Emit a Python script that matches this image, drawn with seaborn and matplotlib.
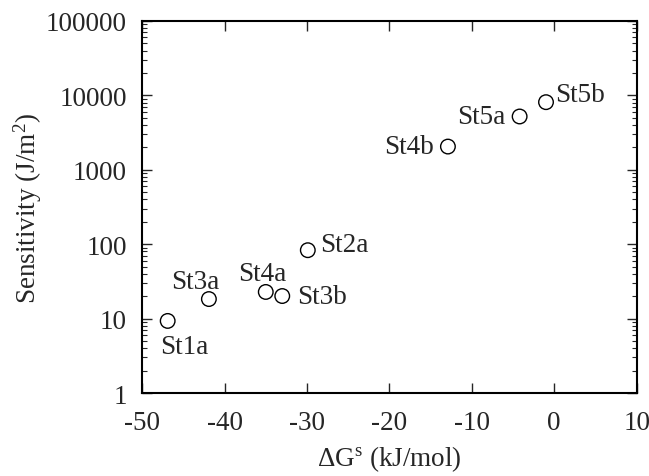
import matplotlib
matplotlib.use("Agg")
import matplotlib.pyplot as plt
import seaborn as sns
import pandas as pd
from matplotlib.ticker import FixedLocator, LogLocator, NullFormatter, FixedFormatter

names = ["St1a", "St3a", "St4a", "St3b", "St2a", "St4b", "St5a", "St5b"]
delta_g = [-46.9, -41.9, -35.0, -33.0, -29.9, -12.9, -4.2, -1.0]
sensitivity = [9.3, 18.3, 22.8, 20.1, 83.0, 2050, 5200, 8100]

x_ticks = [-50, -40, -30, -20, -10, 0, 10]
y_ticks = [1, 10, 100, 1000, 10000, 100000]
y_tick_labels = ["1", "10", "100", "1000", "10000", "100000"]

# label offsets in pixels (dx, dy, ha)
label_offsets = {
    "St1a": (-8, -26, "left"),
    "St3a": (-38, 18, "left"),
    "St4a": (-28, 18, "left"),
    "St3b": (15, 0, "left"),
    "St2a": (12, 6, "left"),
    "St4b": (-14, 0, "right"),
    "St5a": (-14, 0, "right"),
    "St5b": (9, 8, "left"),
}

FS = 19.5

sns.set_style("ticks")
plt.rcParams["font.family"] = ["Liberation Serif", "DejaVu Serif"]
plt.rcParams["mathtext.fontset"] = "custom"
plt.rcParams["mathtext.rm"] = "Liberation Serif"
plt.rcParams["mathtext.it"] = "Liberation Serif:italic"

df = pd.DataFrame({"name": names, "dg": delta_g, "sens": sensitivity})

fig = plt.figure(figsize=(6.49, 4.77), dpi=100)
ax = fig.add_axes([0.219, 0.174, 0.762, 0.780])

sns.scatterplot(data=df, x="dg", y="sens", ax=ax, s=110, marker="o",
                facecolors="none", edgecolor="black", linewidth=1.0, zorder=3)

ax.set_yscale("log")
ax.set_xlim(-50, 10)
ax.set_ylim(1, 100000)

ax.xaxis.set_major_locator(FixedLocator(x_ticks))
ax.set_xticklabels([str(t) for t in x_ticks])
ax.yaxis.set_major_locator(FixedLocator(y_ticks))
ax.yaxis.set_major_formatter(FixedFormatter(y_tick_labels))
ax.yaxis.set_minor_locator(LogLocator(base=10, subs=range(2, 10), numticks=20))
ax.yaxis.set_minor_formatter(NullFormatter())

ax.tick_params(which="major", direction="in", length=7, width=1.0,
               top=True, right=True, labelsize=FS)
ax.tick_params(axis="x", which="major", pad=12)
ax.tick_params(axis="y", which="major", pad=11)
ax.tick_params(which="minor", direction="in", length=3.5, width=0.8,
               top=False, right=True)
for sp in ax.spines.values():
    sp.set_linewidth(1.5)
    sp.set_color("black")

for n, x, y in zip(names, delta_g, sensitivity):
    dx, dy, ha = label_offsets[n]
    ax.annotate(n, (x, y), xytext=(dx, dy), textcoords="offset pixels",
                ha=ha, va="center", fontsize=FS)

ax.set_xlabel(r"$\Delta$G$^{\mathrm{s}}$ (kJ/mol)", fontsize=FS, labelpad=6)
ax.set_ylabel(r"Sensitivity (J/m$^{2}$)", fontsize=FS, labelpad=1)

fig.savefig("out.png", dpi=100)
